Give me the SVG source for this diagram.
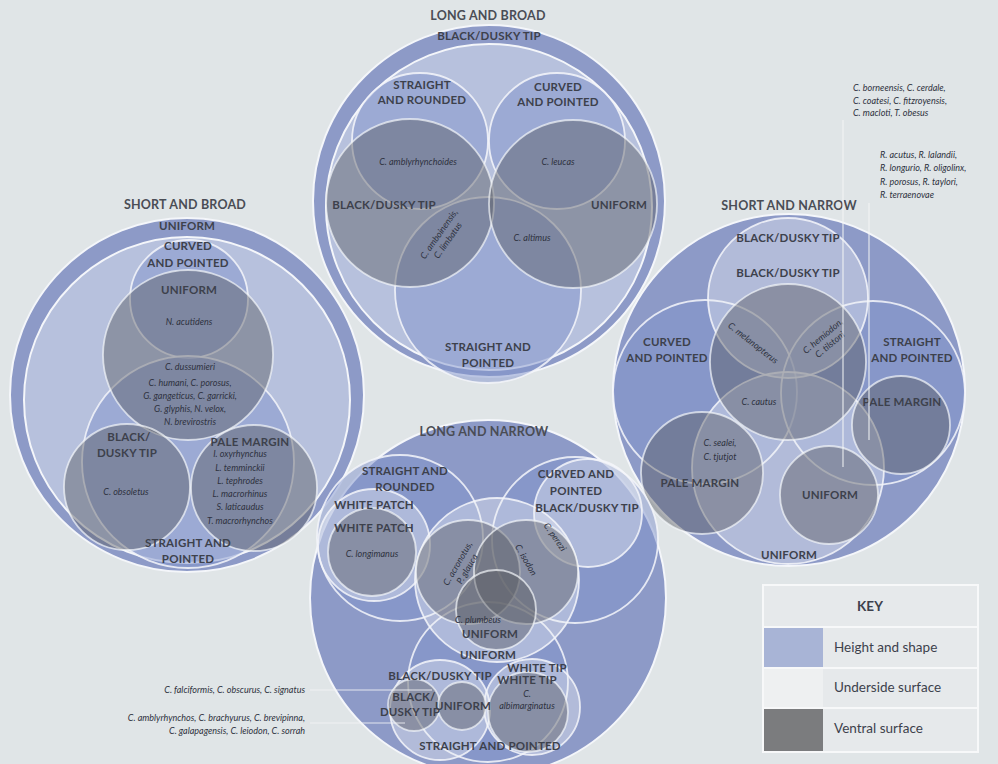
<svg xmlns="http://www.w3.org/2000/svg" width="998" height="764" viewBox="0 0 998 764">
<style>
.bg{fill:#e0e5e7}
.ring{fill:#8d9ac7;stroke:#f4f6fa;stroke-width:2}
.inner{fill:#b7c1dd;stroke:#f4f6fa;stroke-width:2}
.hs{fill:#8193cb;fill-opacity:.5;stroke:#f4f6fa;stroke-opacity:.85;stroke-width:1.8}
.us{fill:#eef1f7;fill-opacity:.38;stroke:#f4f6fa;stroke-opacity:.85;stroke-width:1.8}
.vs{fill:#5c5d64;fill-opacity:.45;stroke:#f4f6fa;stroke-opacity:.7;stroke-width:1.8}
.lab{font-family:Lato,"Open Sans",sans-serif;font-weight:700;font-size:11.5px;fill:#3d414c;text-anchor:middle;letter-spacing:.2px}
.ttl{font-size:12.5px;fill:#4a4d55}
.sp{font-family:Lato,"Open Sans",sans-serif;font-style:italic;font-size:9px;fill:#2e3240;text-anchor:middle}
.spl{text-anchor:start}
.spr{text-anchor:end}
.conn line{stroke:#f3f5f6;stroke-width:1.2;stroke-opacity:.85}
.kcell{fill:#e6e9eb;stroke:#f7f8f9;stroke-width:2}
.ktxt{font-family:Lato,"Open Sans",sans-serif;font-size:13.5px;fill:#3d414c}
</style>
<rect class="bg" x="0" y="0" width="998" height="764"/>

<g id="cluster-long-broad">
  <circle class="ring" cx="489" cy="201" r="176"/>
  <circle class="inner" cx="489" cy="207" r="163"/>
  <circle id="lb-straight-rounded" class="hs" cx="420" cy="141" r="68"/>
  <circle id="lb-curved-pointed" class="hs" cx="557" cy="141" r="68"/>
  <circle id="lb-straight-pointed" class="hs" cx="488" cy="290" r="93"/>
  <circle id="lb-black-dusky" class="vs" cx="410" cy="203" r="84"/>
  <circle id="lb-uniform" class="vs" cx="573" cy="204" r="84"/>
  <text class="lab ttl" x="488" y="20">LONG AND BROAD</text>
  <text class="lab" x="489" y="40">BLACK/DUSKY TIP</text>
  <text class="lab" x="422" y="89">STRAIGHT</text>
  <text class="lab" x="422" y="104">AND ROUNDED</text>
  <text class="lab" x="558" y="91">CURVED</text>
  <text class="lab" x="558" y="106">AND POINTED</text>
  <text class="sp" x="418" y="165">C. amblyrhynchoides</text>
  <text class="sp" x="558" y="165">C. leucas</text>
  <text class="lab" x="384" y="209">BLACK/DUSKY TIP</text>
  <text class="lab" x="619" y="209">UNIFORM</text>
  <g transform="translate(443 237) rotate(-55)">
    <text class="sp" x="0" y="-2">C. amboinensis,</text>
    <text class="sp" x="0" y="9">C. limbatus</text>
  </g>
  <text class="sp" x="532" y="241">C. altimus</text>
  <text class="lab" x="488" y="351">STRAIGHT AND</text>
  <text class="lab" x="488" y="367">POINTED</text>
</g>

<g id="cluster-short-broad">
  <circle class="ring" cx="187" cy="395" r="177"/>
  <circle class="inner" cx="187" cy="400" r="163"/>
  <circle id="sb-curved-pointed" class="hs" cx="189" cy="299" r="59"/>
  <circle id="sb-straight-pointed" class="hs" cx="188" cy="462" r="106"/>
  <circle id="sb-uniform" class="vs" cx="188" cy="355" r="85"/>
  <circle id="sb-black-dusky" class="vs" cx="127" cy="487" r="63"/>
  <circle id="sb-pale-margin" class="vs" cx="254" cy="488" r="63"/>
  <text class="lab ttl" x="185" y="209">SHORT AND BROAD</text>
  <text class="lab" x="187" y="230">UNIFORM</text>
  <text class="lab" x="188" y="250">CURVED</text>
  <text class="lab" x="188" y="267">AND POINTED</text>
  <text class="lab" x="189" y="294">UNIFORM</text>
  <text class="sp" x="189" y="325">N. acutidens</text>
  <text class="sp" x="190" y="370">C. dussumieri</text>
  <text class="sp" x="190" y="386">C. humani, C. porosus,</text>
  <text class="sp" x="190" y="399">G. gangeticus, C. garricki,</text>
  <text class="sp" x="190" y="412">G. glyphis, N. velox,</text>
  <text class="sp" x="190" y="425">N. brevirostris</text>
  <text class="lab" x="129" y="441">BLACK/</text>
  <text class="lab" x="127" y="457">DUSKY TIP</text>
  <text class="sp" x="126" y="495">C. obsoletus</text>
  <text class="lab" x="250" y="446">PALE MARGIN</text>
  <text class="sp" x="240" y="457">I. oxyrhynchus</text>
  <text class="sp" x="240" y="471">L. temminckii</text>
  <text class="sp" x="240" y="484">L. tephrodes</text>
  <text class="sp" x="240" y="497">L. macrorhinus</text>
  <text class="sp" x="240" y="510">S. laticaudus</text>
  <text class="sp" x="240" y="524">T. macrorhynchos</text>
  <text class="lab" x="188" y="547">STRAIGHT AND</text>
  <text class="lab" x="188" y="563">POINTED</text>
</g>

<g id="cluster-short-narrow">
  <circle class="ring" cx="789" cy="390" r="176"/>
  <circle id="sn-curved-pointed" class="hs" cx="705" cy="392" r="92"/>
  <circle id="sn-straight-pointed" class="hs" cx="873" cy="393" r="92"/>
  <circle id="sn-us-black-dusky" class="us" cx="788" cy="298" r="80"/>
  <circle id="sn-us-uniform" class="us" cx="788" cy="468" r="96"/>
  <circle id="sn-black-dusky" class="vs" cx="788" cy="362" r="78"/>
  <circle id="sn-pale-margin-left" class="vs" cx="702" cy="473" r="61"/>
  <circle id="sn-pale-margin-right" class="vs" cx="901" cy="425" r="49"/>
  <circle id="sn-uniform" class="vs" cx="829" cy="495" r="49"/>
  <text class="lab ttl" x="789" y="210">SHORT AND NARROW</text>
  <text class="lab" x="788" y="242">BLACK/DUSKY TIP</text>
  <text class="lab" x="788" y="277">BLACK/DUSKY TIP</text>
  <text class="lab" x="667" y="346">CURVED</text>
  <text class="lab" x="667" y="362">AND POINTED</text>
  <text class="lab" x="912" y="346">STRAIGHT</text>
  <text class="lab" x="912" y="362">AND POINTED</text>
  <text class="sp" transform="translate(753 343) rotate(38)" x="0" y="3">C. melanopterus</text>
  <g transform="translate(826 340) rotate(-40)">
    <text class="sp" x="0" y="-2">C. hemiodon,</text>
    <text class="sp" x="0" y="9">C. tilstoni</text>
  </g>
  <text class="sp" x="759" y="405">C. cautus</text>
  <text class="lab" x="902" y="406">PALE MARGIN</text>
  <text class="sp" x="720" y="446">C. sealei,</text>
  <text class="sp" x="720" y="460">C. tjutjot</text>
  <text class="lab" x="700" y="487">PALE MARGIN</text>
  <text class="lab" x="830" y="499">UNIFORM</text>
  <text class="lab" x="789" y="559">UNIFORM</text>
</g>

<g id="species-list-c">
  <text class="sp spl" x="853" y="91">C. borneensis, C. cerdale,</text>
  <text class="sp spl" x="853" y="104">C. coatesi, C. fitzroyensis,</text>
  <text class="sp spl" x="853" y="116">C. macloti, T. obesus</text>
</g>
<g id="species-list-r">
  <text class="sp spl" x="880" y="158">R. acutus, R. lalandii,</text>
  <text class="sp spl" x="880" y="171">R. longurio, R. oligolinx,</text>
  <text class="sp spl" x="880" y="185">R. porosus, R. taylori,</text>
  <text class="sp spl" x="880" y="198">R. terraenovae</text>
</g>

<g id="cluster-long-narrow">
  <circle class="ring" cx="488" cy="598" r="178"/>
  <circle id="ln-straight-rounded" class="hs" cx="400" cy="538" r="83"/>
  <circle id="ln-curved-pointed" class="hs" cx="575" cy="540" r="83"/>
  <circle id="ln-straight-pointed" class="hs" cx="488" cy="682" r="80"/>
  <circle id="ln-us-white-patch" class="us" cx="374" cy="545" r="56"/>
  <circle id="ln-us-black-dusky" class="us" cx="588" cy="513" r="54"/>
  <circle id="ln-us-uniform" class="us" cx="497" cy="580" r="82"/>
  <circle id="ln-us-black-dusky-bottom" class="us" cx="440" cy="710" r="50"/>
  <circle id="ln-us-white-tip" class="us" cx="532" cy="707" r="48"/>
  <circle id="ln-white-patch" class="vs" cx="372" cy="552" r="44"/>
  <circle id="ln-center-left" class="vs" cx="468" cy="572" r="52"/>
  <circle id="ln-center-right" class="vs" cx="526" cy="572" r="52"/>
  <circle id="ln-uniform" class="vs" cx="496" cy="610" r="40" fill-opacity=".3"/>
  <circle id="ln-black-dusky-small" class="vs" cx="414" cy="705" r="26"/>
  <circle id="ln-uniform-small" class="vs" cx="462" cy="706" r="24"/>
  <circle id="ln-white-tip" class="vs" cx="528" cy="712" r="40"/>
  <text class="lab ttl" x="484" y="436">LONG AND NARROW</text>
  <text class="lab" x="405" y="475">STRAIGHT AND</text>
  <text class="lab" x="405" y="491">ROUNDED</text>
  <text class="lab" x="374" y="509">WHITE PATCH</text>
  <text class="lab" x="374" y="532">WHITE PATCH</text>
  <text class="sp" x="372" y="557">C. longimanus</text>
  <text class="lab" x="576" y="478">CURVED AND</text>
  <text class="lab" x="576" y="495">POINTED</text>
  <text class="lab" x="587" y="512">BLACK/DUSKY TIP</text>
  <text class="sp" transform="translate(555 537) rotate(55)" x="0" y="3">C. perezi</text>
  <g transform="translate(462 566) rotate(-60)">
    <text class="sp" x="0" y="-2">C. acronotus,</text>
    <text class="sp" x="0" y="9">P. glauca</text>
  </g>
  <text class="sp" transform="translate(526 560) rotate(60)" x="0" y="3">C. isodon</text>
  <text class="sp" x="478" y="623">C. plumbeus</text>
  <text class="lab" x="490" y="638">UNIFORM</text>
  <text class="lab" x="488" y="659">UNIFORM</text>
  <text class="lab" x="440" y="680">BLACK/DUSKY TIP</text>
  <text class="lab" x="537" y="672">WHITE TIP</text>
  <text class="lab" x="527" y="684">WHITE TIP</text>
  <text class="sp" x="527" y="697">C.</text>
  <text class="sp" x="527" y="709">albimarginatus</text>
  <text class="lab" x="414" y="701">BLACK/</text>
  <text class="lab" x="410" y="716">DUSKY TIP</text>
  <text class="lab" x="463" y="710">UNIFORM</text>
  <text class="lab" x="490" y="750">STRAIGHT AND POINTED</text>
</g>

<g id="species-list-bottom-1">
  <text class="sp spr" x="305" y="693">C. falciformis, C. obscurus, C. signatus</text>
</g>
<g id="species-list-bottom-2">
  <text class="sp spr" x="305" y="721">C. amblyrhynchos, C. brachyurus, C. brevipinna,</text>
  <text class="sp spr" x="305" y="734">C. galapagensis, C. leiodon, C. sorrah</text>
</g>

<g id="connectors" class="conn">
  <line x1="843" y1="120" x2="843" y2="467"/>
  <line x1="869" y1="203" x2="869" y2="440"/>
  <line x1="310" y1="690" x2="432" y2="690"/>
  <line x1="310" y1="723" x2="405" y2="723"/>
</g>

<g id="key">
  <rect class="kcell" x="763" y="585" width="215" height="42"/>
  <rect class="kcell" x="763" y="627" width="215" height="41"/>
  <rect class="kcell" x="763" y="668" width="215" height="40"/>
  <rect class="kcell" x="763" y="708" width="215" height="44"/>
  <rect x="764" y="628" width="59" height="39" fill="#a8b4d6"/>
  <rect x="764" y="669" width="59" height="38" fill="#eef0f1"/>
  <rect x="764" y="709" width="59" height="42" fill="#7b7c7e"/>
  <text class="ktxt" x="870" y="611" text-anchor="middle" font-weight="700" font-size="13px">KEY</text>
  <text class="ktxt" x="834" y="652">Height and shape</text>
  <text class="ktxt" x="834" y="692">Underside surface</text>
  <text class="ktxt" x="834" y="733">Ventral surface</text>
</g>
</svg>
